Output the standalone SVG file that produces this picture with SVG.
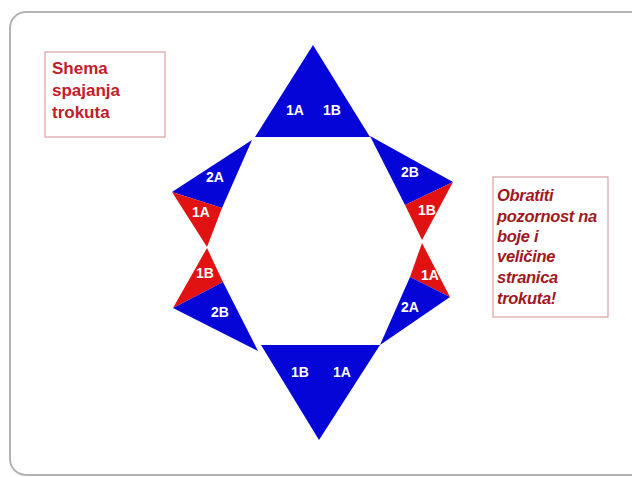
<svg xmlns="http://www.w3.org/2000/svg" width="632" height="477" viewBox="0 0 632 477">
<style>
.b{fill:#0505d8}
.r{fill:#e01212}
.lbl{font-family:"Liberation Sans",Arial,sans-serif;font-weight:bold;font-size:14px;fill:#ffffff;text-anchor:middle}
.box{fill:#ffffff;stroke:#d9a0a0;stroke-width:1.2}
.t1{font-family:"Liberation Sans",Arial,sans-serif;font-weight:bold;font-size:17px;fill:#c0202a}
.t2{font-family:"Liberation Sans",Arial,sans-serif;font-weight:bold;font-style:italic;font-size:16.5px;fill:#a01822;letter-spacing:-0.3px}
</style>
<rect x="0" y="0" width="632" height="477" fill="#ffffff"/>
<rect x="10" y="12" width="640" height="463" rx="16" ry="16" fill="#ffffff" stroke="#b4b4b4" stroke-width="2"/>
<g id="legend-left">
<rect class="box" x="45" y="52" width="120" height="85"/>
<text class="t1" x="52" y="74">Shema</text>
<text class="t1" x="52" y="96">spajanja</text>
<text class="t1" x="52" y="118">trokuta</text>
</g>
<g id="legend-right">
<rect class="box" x="493" y="177" width="115" height="140"/>
<text class="t2" x="497" y="201">Obratiti</text>
<text class="t2" x="497" y="222">pozornost na</text>
<text class="t2" x="497" y="242">boje i</text>
<text class="t2" x="497" y="262">veličine</text>
<text class="t2" x="497" y="283">stranica</text>
<text class="t2" x="497" y="304">trokuta!</text>
</g>
<g id="top-triangle">
<polygon class="b" points="313,45 255,137 370,137"/>
<text class="lbl" x="295" y="115">1A</text>
<text class="lbl" x="332" y="115">1B</text>
</g>
<g id="left-upper">
<polygon class="b" points="252,140 172,192 222,208"/>
<polygon class="r" points="172,192 222,208 207,247"/>
<text class="lbl" x="215" y="182">2A</text>
<text class="lbl" x="201" y="217">1A</text>
</g>
<g id="left-lower">
<polygon class="r" points="207,248 173,308 223,282"/>
<polygon class="b" points="173,308 223,282 258,351"/>
<text class="lbl" x="205" y="278">1B</text>
<text class="lbl" x="220" y="317">2B</text>
</g>
<g id="right-upper">
<polygon class="b" points="370,136 453,182 405,205"/>
<polygon class="r" points="453,182 405,205 422,240"/>
<text class="lbl" x="410" y="177">2B</text>
<text class="lbl" x="427" y="215">1B</text>
</g>
<g id="right-lower">
<polygon class="r" points="422,243 450,297 410,277"/>
<polygon class="b" points="450,297 410,277 380,345"/>
<text class="lbl" x="430" y="280">1A</text>
<text class="lbl" x="410" y="312">2A</text>
</g>
<g id="bottom-triangle">
<polygon class="b" points="261,345 380,345 319,440"/>
<text class="lbl" x="300" y="377">1B</text>
<text class="lbl" x="342" y="377">1A</text>
</g>
<g id="connectors"></g>
</svg>
